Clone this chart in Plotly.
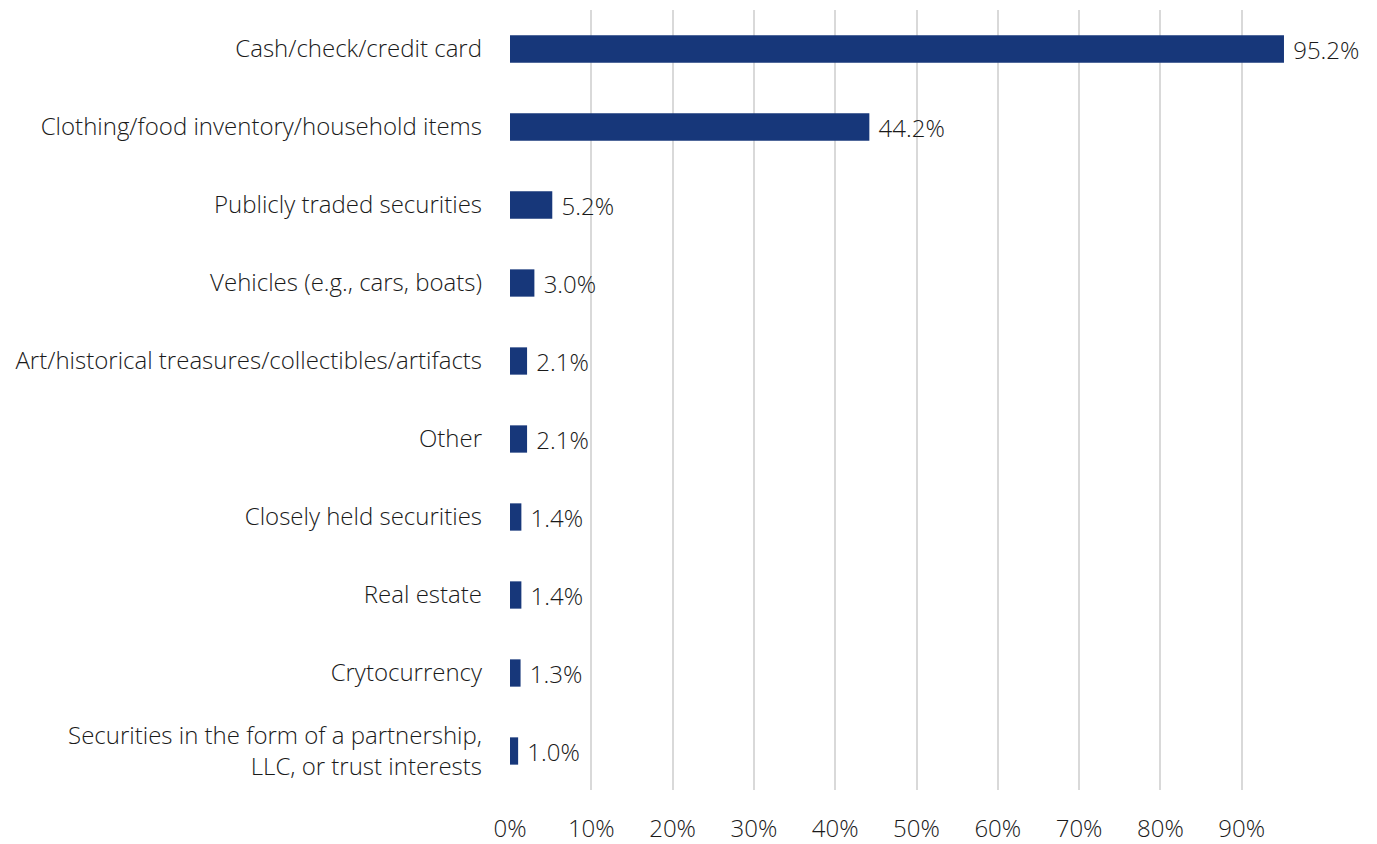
import plotly.graph_objects as go

categories = [
    "Cash/check/credit card",
    "Clothing/food inventory/household items",
    "Publicly traded securities",
    "Vehicles (e.g., cars, boats)",
    "Art/historical treasures/collectibles/artifacts",
    "Other",
    "Closely held securities",
    "Real estate",
    "Crytocurrency",
    "Securities in the form of a partnership,<br>LLC, or trust interests",
]
values = [95.2, 44.2, 5.2, 3.0, 2.1, 2.1, 1.4, 1.4, 1.3, 1.0]
tick_vals = [0, 10, 20, 30, 40, 50, 60, 70, 80, 90]
tick_text = [f"{t}%" for t in tick_vals]

font_family = "Open Sans"
text_color = "#1a1a1a"
fsize = 24

fig = go.Figure(go.Bar(
    y=categories,
    x=values,
    orientation="h",
    marker=dict(color="#17377A", line=dict(width=0)),
    width=0.35,
    text=[f" {v:.1f}%" for v in values],
    textposition="outside",
    constraintext="none",
    cliponaxis=False,
    textfont=dict(family=font_family, size=fsize, color=text_color, weight=300),
))

# page body has an 8px margin, so the figure is a bit smaller than the window
fig.update_layout(
    width=1369,
    height=836,
    margin=dict(l=502, r=54, t=2, b=54, autoexpand=False),
    plot_bgcolor="white",
    paper_bgcolor="white",
    showlegend=False,
    font=dict(family=font_family, size=fsize, color=text_color, weight=300),
    xaxis=dict(
        range=[0, 100],
        tickvals=tick_vals,
        ticktext=tick_text,
        showgrid=True,
        gridcolor="#D9D9D9",
        gridwidth=2,
        zeroline=False,
        showline=False,
        ticklabelstandoff=22,
        automargin=False,
    ),
    yaxis=dict(
        autorange="reversed",
        showgrid=False,
        zeroline=False,
        showline=False,
        ticklabelstandoff=27,
        automargin=False,
    ),
)

fig.write_html("out.html")
